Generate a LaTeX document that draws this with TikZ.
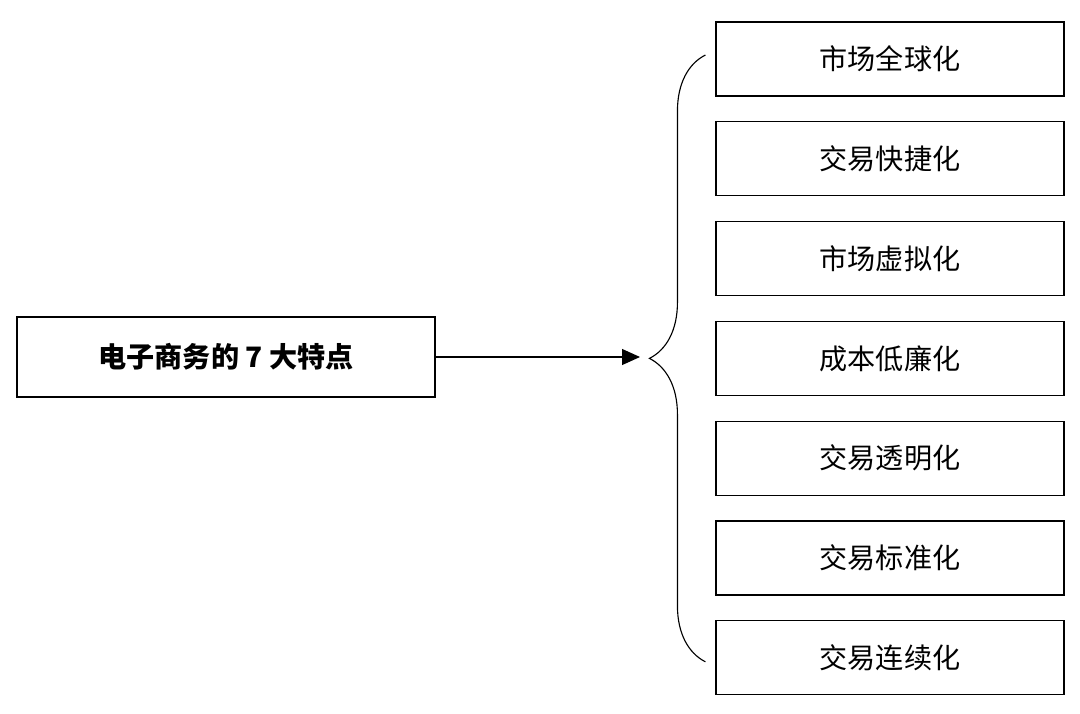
\documentclass[tikz,border=0pt]{standalone}
\usepackage{fontspec}
\newfontfamily\cjk{Noto Sans CJK SC}
\usetikzlibrary{arrows.meta,positioning,calc,decorations.pathreplacing}

\begin{document}
\begin{tikzpicture}[
    main/.style = {rectangle, draw, thick, minimum width=10.45cm, minimum height=2cm, align=center, font=\cjk\bfseries\fontsize{20}{24}\selectfont},
    feature/.style = {rectangle, draw, thick, minimum width=8.7cm, minimum height=1.85cm, align=center, font=\cjk\fontsize{20}{24}\selectfont}
]
    \useasboundingbox (0,0) rectangle (27,17.825);

    % Main node
    \node[main] (ec) at (5.65,8.9) {电子商务的 7 大特点};

    % Seven features
    \foreach \name/\txt [count=\i from 0] in {f1/市场全球化, f2/交易快捷化, f3/市场虚拟化, f4/成本低廉化, f5/交易透明化, f6/交易标准化, f7/交易连续化}
        \node[feature] (\name) at (22.25,16.35-2.495*\i) {\txt};

    % Brace around features
    \coordinate (bb) at ($(f7.west)+(-0.25,-0.1)$);
    \coordinate (bt) at ($(f1.west)+(-0.25,0.1)$);
    \draw[thick, decorate, decoration={brace, amplitude=1.4cm, aspect=0.5}] (bb) -- (bt);

    % Arrow to brace
    \coordinate (tip) at (16,8.9);
    \draw[-{Triangle[length=0.45cm,width=0.4cm]}, thick] (ec) -- (tip);

\end{tikzpicture}
\end{document}
